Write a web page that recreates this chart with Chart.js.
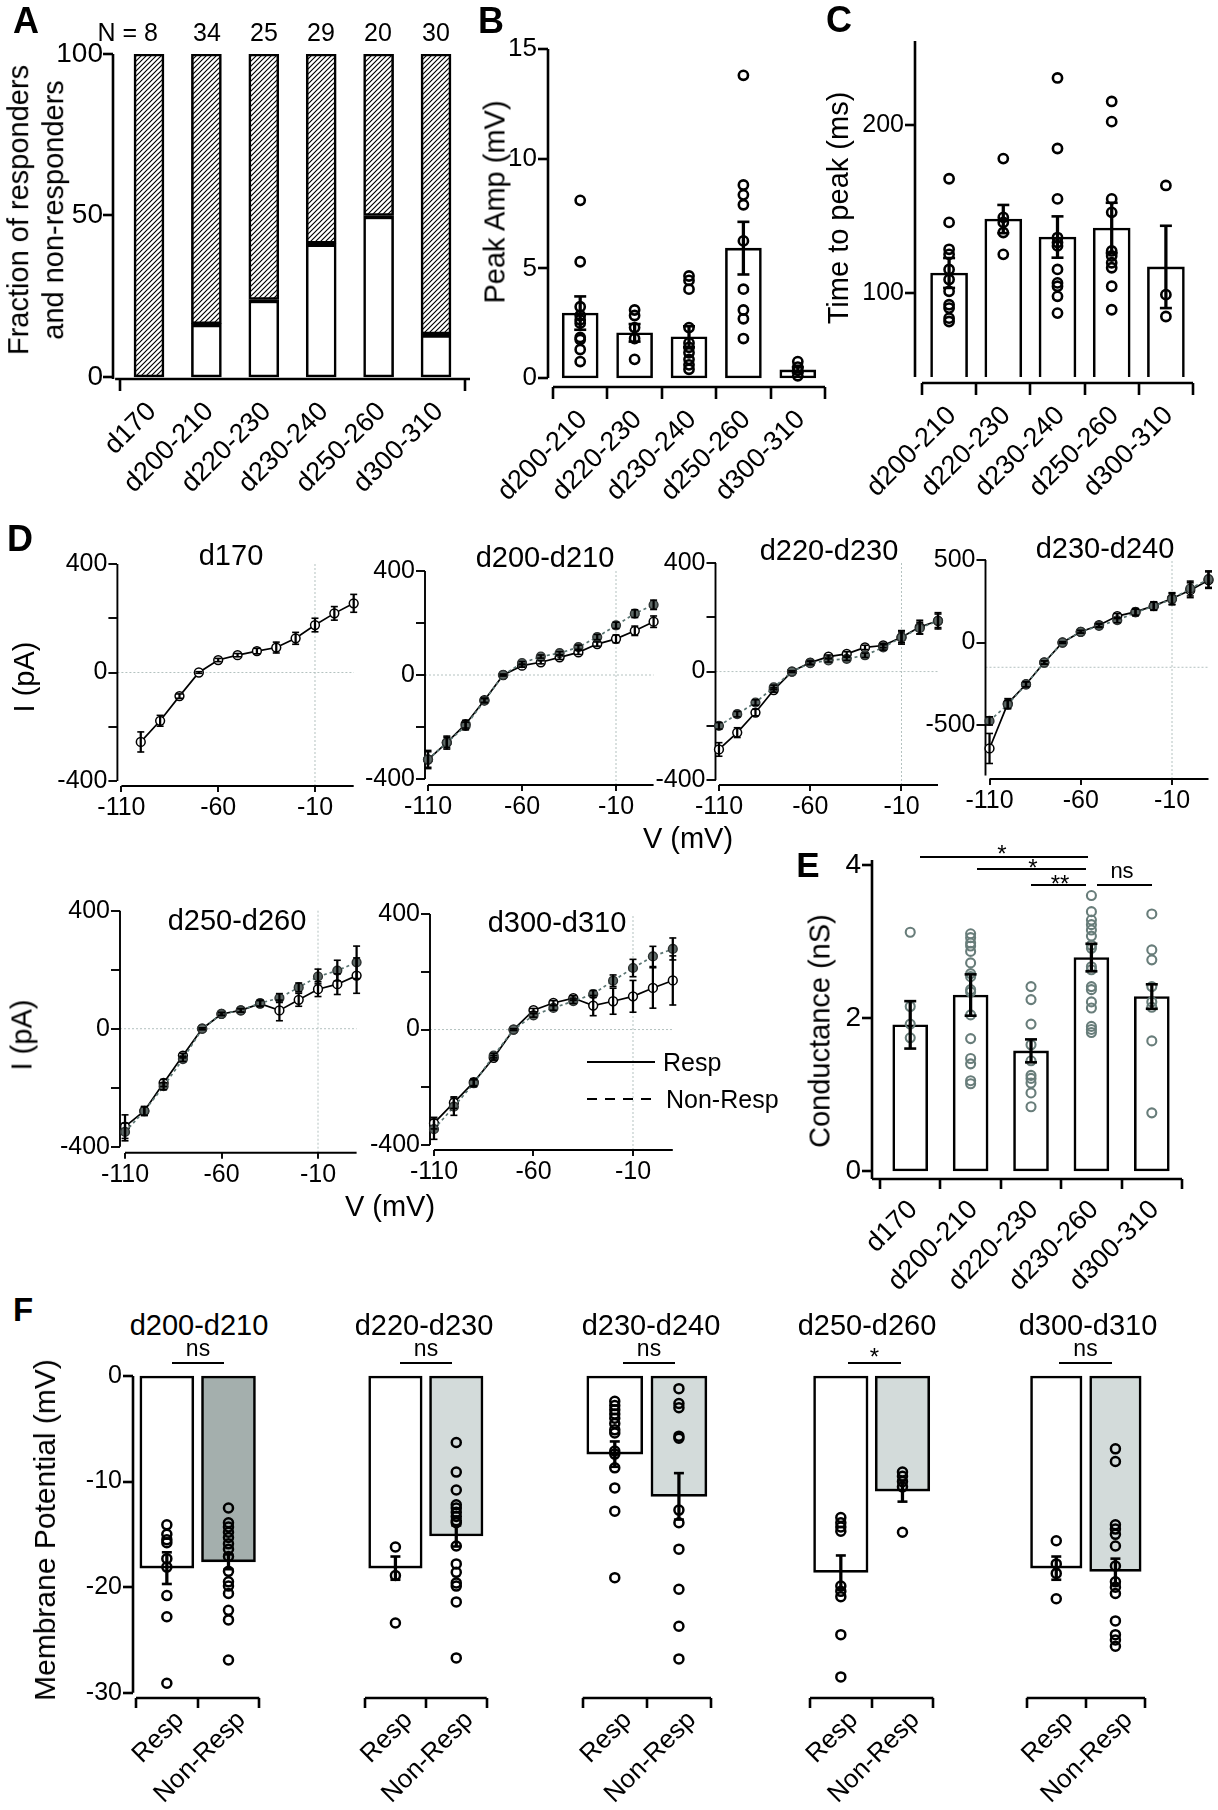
<!DOCTYPE html>
<html><head><meta charset="utf-8">
<script src="https://cdn.jsdelivr.net/npm/chart.js@4.4.1/dist/chart.umd.min.js"></script>
<style>
html,body{margin:0;padding:0;background:#fff;overflow:hidden}
#root{position:relative;width:1218px;height:1810px;background:#fff;overflow:hidden}
canvas{position:absolute}
</style></head><body><div id="root"></div>
<script>
// ================= DATA =================
// Panel A
const A_categories = ['d170','d200-210','d220-230','d230-240','d250-260','d300-310'];
const A_counts = [8, 34, 25, 29, 20, 30];
const A_responders = [0, 16.5, 24, 41.4, 50, 13.3];
const A_nonResponders = [100, 83.5, 76, 58.6, 50, 86.7];
const A_yTicks = [0, 50, 100];

// Panel B
const B_categories = ['d200-210','d220-230','d230-240','d250-260','d300-310'];
const B_mean = [2.96, 2.06, 1.88, 5.92, 0.37];
const B_sem = [0.76, 0.40, 0.48, 1.20, 0.12];
const B_points = [
  [8.1, 5.3, 3.25, 2.85, 2.65, 2.5, 1.85, 1.75, 1.3, 0.75],
  [3.1, 2.85, 2.3, 1.8, 0.85],
  [4.65, 4.45, 4.05, 2.3, 1.6, 1.4, 1.15, 0.85, 0.6, 0.4],
  [13.8, 8.8, 8.35, 7.9, 6.25, 4.05, 3.1, 2.7, 1.8],
  [0.75, 0.5, 0.35, 0.1]
];
const B_yTicks = [0, 5, 10, 15];

// Panel C
const C_categories = ['d200-210','d220-230','d230-240','d250-260','d300-310'];
const C_mean = [111.9, 144, 133.3, 138.7, 115.5];
const C_sem = [8.9, 8.4, 12.3, 15, 24.5];
const C_points = [
  [168, 142, 126, 123, 114, 108, 101, 93, 91, 85, 83],
  [180, 145, 142, 136, 123],
  [228, 186, 156, 133, 130, 128, 114, 106, 104, 98, 88],
  [214, 202, 156, 148, 125, 122, 118, 115, 104, 90],
  [164, 99, 86]
];
const C_yTicks = [100, 200];
const C_base = 50;

// Panel D (I-V curves)
const D_titles = ['d170','d200-d210','d220-d230','d230-d240','d250-d260','d300-d310'];
const D_voltage = [-110,-100,-90,-80,-70,-60,-50,-40,-30,-20,-10,0,10];
const D_xTicks = [-110, -60, -10];
const D_yTicks = [-400, -200, 0, 200, 400];
const D4_yTicks = [-500, 0, 500];

const D1_resp     = [null,-256,-178,-87,0,46,64,79,92,126,175,218,255];
const D1_respErr  = [null,37,20,8,3,6,6,10,20,22,25,25,33];

const D2_resp     = [-325,-260,-189,-97,0,36,49,68,87,119,139,170,205];
const D2_respErr  = [35,25,15,8,3,6,6,8,8,8,15,18,22];
const D2_non      = [-325,-260,-196,-99,0,46,71,84,107,146,191,236,270];
const D2_nonErr   = [30,20,15,8,3,6,6,6,8,10,12,15,18];

const D3_resp     = [-287,-225,-151,-68,0,33,55,65,89,96,126,164,187];
const D3_respErr  = [25,18,12,8,3,6,6,8,8,8,25,25,30];
const D3_non      = [-200,-157,-114,-58,0,31,41,47,60,89,126,160,187];
const D3_nonErr   = [12,10,10,8,3,6,6,6,8,10,20,22,25];

const D4_resp     = [-642,-370,-253,-121,0,65,105,160,186,222,267,317,378];
const D4_respErr  = [91,30,15,10,5,8,10,15,20,25,35,45,50];
const D4_non      = [-475,-376,-253,-121,0,65,101,135,182,220,263,327,384];
const D4_nonErr   = [25,25,15,10,5,8,10,15,20,25,35,45,50];

const D5_resp     = [-332,-279,-184,-91,0,50,62,85,62,98,134,151,180];
const D5_respErr  = [40,15,12,8,3,5,6,10,35,22,25,35,60];
const D5_non      = [-350,-279,-195,-103,0,50,62,87,104,140,177,197,225];
const D5_nonErr   = [30,15,12,8,3,5,6,10,15,15,25,35,55];

const D6_resp     = [-324,-253,-182,-98,0,67,92,109,83,98,115,144,170];
const D6_respErr  = [20,20,12,8,3,6,8,8,35,45,55,70,85];
const D6_non      = [-345,-267,-186,-90,0,49,75,98,123,169,213,253,279];
const D6_nonErr   = [35,30,12,8,3,6,8,8,12,20,30,35,38];

// Panel E
const E_categories = ['d170','d200-210','d220-230','d230-260','d300-310'];
const E_mean = [1.91, 2.30, 1.57, 2.79, 2.28];
const E_sem = [0.31, 0.27, 0.15, 0.18, 0.16];
const E_points = [
  [3.12, 2.15, 1.92, 1.74],
  [3.10, 3.05, 2.98, 2.94, 2.87, 2.72, 2.58, 2.54, 2.37, 2.34, 2.04, 1.73, 1.47, 1.40, 1.18, 1.14],
  [2.41, 2.24, 1.92, 1.65, 1.44, 1.25, 1.21, 1.15, 1.02, 0.84],
  [3.60, 3.39, 3.28, 3.22, 3.15, 3.07, 2.95, 2.91, 2.67, 2.63, 2.41, 2.37, 2.21, 2.13, 1.89, 1.85, 1.81],
  [3.36, 2.89, 2.76, 2.41, 2.21, 2.14, 1.70, 0.76]
];
const E_yTicks = [0, 2, 4];

// Panel F
const F_titles = ['d200-d210','d220-d230','d230-d240','d250-d260','d300-d310'];
const F_categories = ['Resp','Non-Resp'];
const F_respMean = [-18.2, -18.2, -7.4, -18.6, -18.2];
const F_respSem = [1.5, 1.1, 1.2, 1.6, 1.1];
const F_nonMean = [-17.6, -15.15, -11.4, -10.9, -18.5];
const F_nonSem = [0.7, 1.0, 2.2, 1.0, 1.2];
const F_respPoints = [
  [-14.1, -15.0, -15.5, -15.8, -17.3, -18.1, -20.8, -22.8, -29.1],
  [-16.2, -18.9, -23.4],
  [-2.4, -2.8, -3.2, -3.6, -4.0, -4.5, -5.1, -5.4, -7.1, -7.4, -8.7, -10.6, -12.8, -19.1],
  [-13.4, -13.9, -14.3, -14.7, -19.9, -20.4, -20.9, -24.5, -28.5],
  [-15.6, -17.8, -18.7, -21.1]
];
const F_nonPoints = [
  [-12.5, -13.9, -14.3, -14.8, -15.3, -15.9, -16.4, -17.1, -18.5, -19.5, -19.9, -20.6, -22.2, -23.1, -26.9],
  [-6.3, -9.1, -10.8, -12.2, -12.5, -12.9, -13.3, -13.7, -13.9, -16.1, -17.8, -18.6, -19.6, -19.9, -21.4, -26.7],
  [-1.2, -2.6, -3.0, -5.7, -5.9, -12.7, -13.9, -16.4, -20.2, -23.7, -26.8],
  [-9.1, -9.5, -10.0, -10.5, -14.8],
  [-6.9, -8.1, -14.1, -14.5, -15.0, -16.1, -18.0, -19.5, -20.0, -20.6, -23.2, -24.5, -25.0, -25.6]
];
const F_sig = ['ns', 'ns', 'ns', '*', 'ns'];
const F_yTicks = [0, -10, -20, -30];

// ================= SETUP =================
const FONT = "'Liberation Sans', Arial, Helvetica, sans-serif";
Chart.defaults.font.family = FONT;
Chart.defaults.color = '#000';
Chart.defaults.animation = false;
Chart.defaults.events = [];
Chart.defaults.plugins.legend.display = false;
Chart.defaults.plugins.tooltip.enabled = false;
const root = document.getElementById('root');
const CLEAR = 'rgba(0,0,0,0)';
const ROT_FONT = 27;

function zeroPad(s) { s.paddingLeft = 0; s.paddingRight = 0; s.paddingTop = 0; s.paddingBottom = 0; }

const figLines = {
  id: 'figLines',
  beforeDatasetsDraw(chart, args, o) {
    const ctx = chart.ctx, ca = chart.chartArea, x = chart.scales.x, y = chart.scales.y;
    ctx.save();
    (o.refs || []).forEach(r => {
      ctx.beginPath(); ctx.setLineDash([2, 2]); ctx.strokeStyle = '#b4c2c0'; ctx.lineWidth = 1;
      if (r.axis === 'y') { const py = y.getPixelForValue(r.value); ctx.moveTo(x.getPixelForValue(r.from), py); ctx.lineTo(x.getPixelForValue(r.to), py); }
      else { const px = x.getPixelForValue(r.value); ctx.moveTo(px, y.getPixelForValue(r.from)); ctx.lineTo(px, y.getPixelForValue(r.to)); }
      ctx.stroke();
    });
    ctx.setLineDash([]); ctx.strokeStyle = '#000'; ctx.lineWidth = o.lw || 2; ctx.lineCap = 'butt';
    if (o.y) { ctx.beginPath(); ctx.moveTo(ca.left, y.getPixelForValue(o.y[0])); ctx.lineTo(ca.left, y.getPixelForValue(o.y[1])); ctx.stroke(); }
    if (o.x) { ctx.beginPath(); ctx.moveTo(x.getPixelForValue(o.x[0]), ca.bottom); ctx.lineTo(x.getPixelForValue(o.x[1]), ca.bottom); ctx.stroke(); }
    ctx.restore();
  }
};

function panel(g) {
  const showY = g.y.display !== false;
  const yW = showY ? (g.yW || 60) : 0;
  const padL = g.padL ?? 110, padT = g.padT ?? 30, padR = g.padR ?? 40, xHt = g.xH ?? 140;
  const cl = Math.floor(g.l - yW - padL), ct = Math.floor(g.t - padT);
  const W = Math.ceil(g.r + padR - cl), H = Math.ceil(g.b + xHt - ct);
  const cv = document.createElement('canvas');
  cv.width = W; cv.height = H;
  cv.style.left = cl + 'px'; cv.style.top = ct + 'px'; cv.style.width = W + 'px'; cv.style.height = H + 'px';
  root.appendChild(cv);
  const xo = g.x, yo = g.y;
  const xH = H - (g.b - ct);
  new Chart(cv, {
    type: 'bar',
    data: { datasets: g.datasets },
    options: {
      responsive: false, devicePixelRatio: 1, maintainAspectRatio: false,
      layout: { autoPadding: false, padding: { left: g.l - yW - cl, top: g.t - ct, right: cl + W - g.r, bottom: 0 } },
      scales: {
        x: {
          type: 'linear', position: 'bottom', min: xo.min, max: xo.max, offset: false, stacked: !!g.stacked,
          afterBuildTicks: s => { s.ticks = xo.ticks.map(v => ({ value: v })); },
          afterFit: s => { s.height = xH; zeroPad(s); },
          grid: { display: true, drawOnChartArea: false, drawTicks: true, offset: !!xo.gridOffset, tickLength: xo.tickLen,
                  tickWidth: g.lw, tickColor: xo.tickColor || '#000', color: CLEAR, lineWidth: 0 },
          border: { display: false },
          ticks: { autoSkip: false, minRotation: xo.rot || 0, maxRotation: xo.rot || 0, padding: xo.pad ?? 2,
                   labelOffset: xo.labelOffset || 0, color: '#000',
                   font: { size: xo.font, family: FONT }, callback: (v, i) => xo.label(v, i) }
        },
        y: {
          type: 'linear', position: 'left', display: showY, min: yo.min, max: yo.max, stacked: !!g.stacked,
          afterBuildTicks: s => { s.ticks = yo.ticks.map(v => ({ value: v })); },
          afterFit: s => { s.width = yW; zeroPad(s); },
          grid: { display: true, drawOnChartArea: false, drawTicks: true, tickLength: yo.tickLen ?? 10,
                  tickWidth: g.lw, tickColor: '#000', color: CLEAR, lineWidth: 0 },
          border: { display: false },
          ticks: { padding: yo.pad ?? 1, color: '#000', font: { size: yo.font || 24, family: FONT },
                   callback: v => (yo.label ? yo.label(v) : String(v)) }
        }
      },
      plugins: { figLines: { y: yo.line, x: xo.line, lw: g.lw, refs: g.refs } }
    },
    plugins: [figLines]
  });
}

// dataset helpers
function meanBars(means, barW, fill, base, skip, bw) {
  return { type: 'bar', data: means.map((m, i) => ({ x: i, y: base == null ? m : [base, m] })),
    backgroundColor: fill, borderColor: '#000', borderWidth: bw || 2.6, borderSkipped: skip ?? false,
    barThickness: barW, grouped: false, order: 10, clip: false };
}
function errBars(xs, means, sems, lw, capR, color) {
  color = color || '#000';
  const ix = xs.map((x, i) => i).filter(i => means[i] != null);
  return [
    { type: 'bar', data: ix.map(i => ({ x: xs[i], y: [means[i] - sems[i], means[i] + sems[i]] })),
      backgroundColor: color, borderWidth: 0, barThickness: lw, grouped: false, order: 1, clip: false },
    { type: 'scatter', data: ix.flatMap(i => [{ x: xs[i], y: means[i] - sems[i] }, { x: xs[i], y: means[i] + sems[i] }]),
      pointStyle: 'line', pointRadius: capR, pointBorderWidth: lw, pointBorderColor: color, pointBackgroundColor: color,
      borderColor: color, order: 1, clip: false }
  ];
}
function dots(groups, color, r, bw, fill) {
  return { type: 'scatter', data: groups.flatMap((arr, i) => arr.map(v => ({ x: i, y: v }))),
    pointRadius: r, pointBorderWidth: bw, pointBorderColor: color, pointBackgroundColor: fill || CLEAR,
    order: 5, clip: false };
}
const idx = arr => arr.map((_, i) => i);

// ================= PANEL A =================
const hatchCanvas = document.createElement('canvas');
hatchCanvas.width = 5; hatchCanvas.height = 5;
(() => {
  const g = hatchCanvas.getContext('2d');
  g.fillStyle = '#fff'; g.fillRect(0, 0, 5, 5);
  g.strokeStyle = '#000'; g.lineWidth = 1.15;
  g.beginPath(); g.moveTo(0, 5); g.lineTo(5, 0); g.moveTo(-1, 1); g.lineTo(1, -1); g.moveTo(4, 6); g.lineTo(6, 4); g.stroke();
})();
const hatch = hatchCanvas.getContext('2d').createPattern(hatchCanvas, 'repeat');

panel({
  l: 113, t: 54, r: 470, b: 379, lw: 2.6, stacked: true,
  x: { min: -0.627, max: 5.592, ticks: idx(A_categories), label: (v, i) => A_categories[i], rot: 45, font: ROT_FONT,
       tickLen: 12, gridOffset: true, pad: 5, labelOffset: 3, line: [-0.59, 5.592],
       tickColor: c => (c.type === 'scale' || c.index === 0) ? '#000' : CLEAR },
  y: { min: -0.62, max: 100, ticks: A_yTicks, font: 28, tickLen: 10, pad: 0, line: [-0.62, 100] },
  datasets: [
    { type: 'bar', data: A_responders.map((v, i) => ({ x: i, y: v })), backgroundColor: '#fff', borderColor: '#000',
      borderWidth: { top: 4, left: 2.6, right: 2.6, bottom: 2.6 }, borderSkipped: false, barThickness: 30, stack: 's', order: 2 },
    { type: 'bar', data: A_nonResponders.map((v, i) => ({ x: i, y: v })), backgroundColor: hatch, borderColor: '#000',
      borderWidth: 2.6, borderSkipped: false, barThickness: 30, stack: 's', order: 2 }
  ]
});

// ================= PANEL B =================
panel({
  l: 548, t: 49, r: 825, b: 387, lw: 2.6,
  x: { min: -0.592, max: 4.5, ticks: idx(B_categories), label: (v, i) => B_categories[i], rot: 45, font: ROT_FONT,
       tickLen: 12, gridOffset: true, pad: 5, labelOffset: 3, line: [-0.5, 4.5] },
  y: { min: -0.41, max: 15, ticks: B_yTicks, font: 26, tickLen: 10, pad: 1, line: [0, 15] },
  datasets: [
    meanBars(B_mean, 36, '#fff'),
    dots(B_points, '#000', 4.6, 2.6),
    ...errBars(idx(B_mean), B_mean, B_sem, 2.6, 6)
  ]
});

// ================= PANEL C =================
panel({
  l: 915, t: 41, r: 1193, b: 383, lw: 2.6,
  x: { min: -0.629, max: 4.5, ticks: idx(C_categories), label: (v, i) => C_categories[i], rot: 45, font: ROT_FONT,
       tickLen: 12, gridOffset: true, pad: 5, labelOffset: 3, line: [-0.5, 4.5] },
  y: { min: 46.4, max: 250, ticks: C_yTicks, font: 25, tickLen: 10, pad: 1, line: [50, 250] },
  datasets: [
    meanBars(C_mean, 37, '#fff', C_base, 'start'),
    dots(C_points, '#000', 4.6, 2.6),
    ...errBars(idx(C_mean), C_mean, C_sem, 2.6, 6)
  ]
});

// ================= PANEL D =================
function ivPanel(geo, resp, respErr, non, nonErr, yTicks) {
  const ds = [];
  if (non) {
    ds.push({ type: 'line', data: D_voltage.map((x, i) => ({ x, y: non[i] })), borderColor: '#5a7572', borderWidth: 1.7,
      borderDash: [3, 3], pointRadius: 4.4, pointBorderWidth: 1.4, pointBorderColor: '#2e3332', pointBackgroundColor: '#5d6866',
      order: 3, clip: false, spanGaps: true });
    ds.push(...errBars(D_voltage, non, nonErr, 1.6, 3.5));
  }
  ds.push({ type: 'line', data: D_voltage.map((x, i) => ({ x, y: resp[i] })), borderColor: '#000', borderWidth: 1.7,
    pointRadius: 4.4, pointBorderWidth: 1.5, pointBorderColor: '#000', pointBackgroundColor: '#fff',
    order: 4, clip: false, spanGaps: true });
  ds.push(...errBars(D_voltage, resp, respErr, 1.6, 3.5));
  panel({
    l: geo.l, t: geo.t, r: geo.r, b: geo.b, lw: 1.9, xH: 45, padT: 20, padR: 15,
    x: { min: geo.xmin, max: 10, ticks: D_xTicks, label: v => String(v), font: 25, tickLen: 6, pad: 1, line: [-110, 10] },
    y: { min: geo.ymin, max: geo.ymax, ticks: yTicks, font: 25, tickLen: 9, pad: 1, line: [geo.ymax, geo.yAxisEnd],
         label: v => (Math.abs(v) === 200 ? '' : String(v)) },
    refs: [ { axis: 'y', value: geo.zero, from: geo.xmin, to: 10 }, { axis: 'x', value: -10, from: geo.ymin, to: geo.ymax } ],
    datasets: ds
  });
}
ivPanel({ l: 117.4, t: 564, r: 353.7, b: 786, xmin: -112.07, ymin: -418.4, ymax: 400, yAxisEnd: -400, zero: 0 }, D1_resp, D1_respErr, null, null, D_yTicks);
ivPanel({ l: 425, t: 571, r: 653.6, b: 785, xmin: -111.6, ymin: -423, ymax: 400, yAxisEnd: -400, zero: 0 }, D2_resp, D2_respErr, D2_non, D2_nonErr, D_yTicks);
ivPanel({ l: 715.5, t: 563, r: 938, b: 785, xmin: -111.9, ymin: -418, ymax: 400, yAxisEnd: -400, zero: 0 }, D3_resp, D3_respErr, D3_non, D3_nonErr, D_yTicks);
ivPanel({ l: 985.5, t: 560, r: 1208.5, b: 779, xmin: -112.2, ymin: -827, ymax: 500, yAxisEnd: -806, zero: -150 }, D4_resp, D4_respErr, D4_non, D4_nonErr, D4_yTicks);
ivPanel({ l: 120, t: 910.7, r: 356.6, b: 1152.7, xmin: -112.6, ymin: -420.3, ymax: 400, yAxisEnd: -400, zero: 0 }, D5_resp, D5_respErr, D5_non, D5_nonErr, D_yTicks);
ivPanel({ l: 430, t: 914, r: 672.8, b: 1150, xmin: -112, ymin: -417, ymax: 400, yAxisEnd: -400, zero: 0 }, D6_resp, D6_respErr, D6_non, D6_nonErr, D_yTicks);

// ================= PANEL E =================
panel({
  l: 872, t: 860, r: 1182, b: 1179, lw: 2.6,
  x: { min: -0.633, max: 4.5, ticks: idx(E_categories), label: (v, i) => E_categories[i], rot: 45, font: ROT_FONT,
       tickLen: 10, gridOffset: true, pad: 5, labelOffset: 3, line: [-0.633, 4.5] },
  y: { min: -0.105, max: 4.065, ticks: E_yTicks, font: 28, tickLen: 10, pad: 1, line: [-0.105, 4.065] },
  datasets: [
    meanBars(E_mean, 35, '#fff'),
    dots(E_points, '#687d7a', 4.5, 2.1),
    ...errBars(idx(E_mean), E_mean, E_sem, 2.6, 6)
  ]
});

// ================= PANEL F =================
const F_geo = [
  { l: 133, r: 259.3, xmin: -0.549, barW: 54, showY: true },
  { l: 365, r: 486.7, xmin: -0.5, barW: 53.5 },
  { l: 582.7, r: 711, xmin: -0.5, barW: 56 },
  { l: 810, r: 933.3, xmin: -0.5, barW: 54.5 },
  { l: 1026.7, r: 1145, xmin: -0.5, barW: 51.5 }
];
const F_nonFill = ['#a4afad', '#d3dbda', '#d3dbda', '#d3dbda', '#d3dbda'];
F_geo.forEach((geo, k) => {
  const means = [F_respMean[k], F_nonMean[k]];
  const sems = [F_respSem[k], F_nonSem[k]];
  panel({
    l: geo.l, t: 1376, r: geo.r, b: 1698, lw: 2.6,
    x: { min: geo.xmin, max: 1.5, ticks: idx(F_categories), label: (v, i) => F_categories[i], rot: 45, font: 26,
         tickLen: 10, gridOffset: true, pad: -3, labelOffset: 13, line: [-0.5, 1.5] },
    y: { display: geo.showY ? true : false, min: -30.5, max: 0, ticks: F_yTicks, font: 25, tickLen: 10, pad: 1,
         line: geo.showY ? [0, -30] : null },
    datasets: [
      meanBars(means, geo.barW, ['#fff', F_nonFill[k]]),
      dots([F_respPoints[k], F_nonPoints[k]], '#000', 4.5, 2.5),
      ...errBars([0, 1], means, sems, 2.6, 5)
    ]
  });
});

// ================= TEXT =================
function T(txt, x, y, size, o) {
  o = o || {};
  const d = document.createElement('div');
  if (o.html) d.innerHTML = txt; else d.textContent = txt;
  const tx = o.align === 'left' ? '0' : (o.align === 'right' ? '-100%' : '-50%');
  d.style.cssText = 'position:absolute;left:' + x + 'px;top:' + y + 'px;font-family:' + FONT + ';font-size:' + size +
    'px;font-weight:' + (o.bold ? 700 : 400) + ';line-height:' + (o.lh || 1) + ';white-space:nowrap;text-align:center;color:#000;transform:translate(' +
    tx + ',-50%)' + (o.rot ? ' rotate(-90deg)' : '') + ';';
  root.appendChild(d);
}
function HL(x1, x2, y, w) {
  w = w || 2;
  const d = document.createElement('div');
  d.style.cssText = 'position:absolute;left:' + x1 + 'px;top:' + (y - w / 2) + 'px;width:' + (x2 - x1) + 'px;height:' + w + 'px;background:#000';
  root.appendChild(d);
}

// panel letters
T('A', 26, 21, 36, { bold: true });
T('B', 491, 21, 36, { bold: true });
T('C', 839, 20, 36, { bold: true });
T('D', 20, 539, 36, { bold: true });
T('E', 808, 864, 35, { bold: true });
T('F', 23, 1309, 33, { bold: true });

// A texts
T('N = ' + A_counts[0], 158, 32, 25, { align: 'right' });
const A_centers = [149, 207, 264, 321, 378, 436];
A_counts.slice(1).forEach((n, i) => T(String(n), A_centers[i + 1], 32, 25));
T('Fraction of responders<br>and non-responders', 36, 210, 29, { rot: true, html: true, lh: 1.2 });

// B, C
T('Peak Amp (mV)', 495, 202, 29, { rot: true });
T('Time to peak (ms)', 838, 208, 29, { rot: true });

// D
T('I (pA)', 24, 677, 29, { rot: true });
T('I (pA)', 22, 1035, 29, { rot: true });
const D_titlePos = [[231, 555], [545, 557], [829, 550], [1105, 548], [237, 920], [557, 922]];
D_titles.forEach((t, i) => T(t, D_titlePos[i][0], D_titlePos[i][1], 29));
T('V (mV)', 688, 838, 29);
T('V (mV)', 390, 1206, 29);
// legend
const lg = document.createElementNS('http://www.w3.org/2000/svg', 'svg');
lg.setAttribute('width', '72'); lg.setAttribute('height', '60');
lg.style.cssText = 'position:absolute;left:586px;top:1050px';
lg.innerHTML = '<line x1="1" y1="12" x2="69" y2="12" stroke="#000" stroke-width="2"/>' +
               '<line x1="1" y1="49" x2="69" y2="49" stroke="#000" stroke-width="2" stroke-dasharray="10 8"/>';
root.appendChild(lg);
T('Resp', 663, 1062, 25, { align: 'left' });
T('Non-Resp', 666, 1099, 25, { align: 'left' });

// E
T('Conductance (nS)', 820, 1031, 29, { rot: true });
HL(920, 1088, 857); T('*', 1002, 854, 24);
HL(977, 1086, 869); T('*', 1033, 868, 24);
HL(1031, 1086, 885); T('**', 1060, 884, 24);
HL(1097, 1152, 885); T('ns', 1122, 871, 22);

// F
T('Membrane Potential (mV)', 45, 1530, 30, { rot: true });
const F_titleX = [199, 424, 651, 867, 1088];
const F_sigLine = [[172, 224], [400, 452], [623, 675], [848, 901], [1059, 1112]];
F_titles.forEach((t, i) => {
  T(t, F_titleX[i], 1325, 29);
  HL(F_sigLine[i][0], F_sigLine[i][1], 1363);
  if (F_sig[i] === '*') T('*', (F_sigLine[i][0] + F_sigLine[i][1]) / 2, 1357, 24);
  else T(F_sig[i], (F_sigLine[i][0] + F_sigLine[i][1]) / 2, 1348, 23);
});
</script></body></html>
